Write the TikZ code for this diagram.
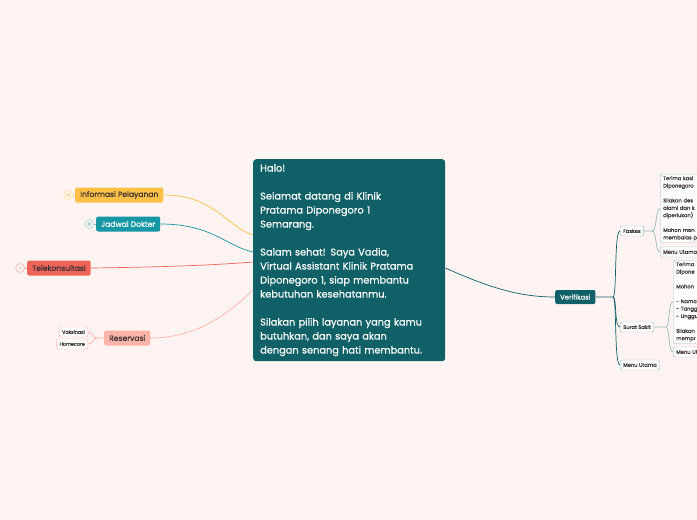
\documentclass[tikz,border=0pt]{standalone}
\usepackage{fontspec}
\setmainfont{Poppins}[FakeBold=0.6]
\usetikzlibrary{positioning}
\definecolor{bgpink}{RGB}{255,244,241}
\definecolor{tealdark}{RGB}{16,96,104}
\definecolor{tealmid}{RGB}{23,150,165}
\definecolor{orangey}{RGB}{255,193,69}
\definecolor{redsoft}{RGB}{240,100,90}
\definecolor{pinksoft}{RGB}{255,180,170}
\definecolor{greyline}{RGB}{150,185,190}
\definecolor{textdark}{RGB}{60,50,50}

\begin{document}
\begin{tikzpicture}[x=1pt, y=-1pt,
    topic/.style={rounded corners=2pt, minimum height=15pt, inner xsep=5pt, inner ysep=0pt,
      font=\fontsize{7.6}{8}\selectfont, text=textdark},
    leaf/.style={draw=pinksoft, fill=white, rounded corners=2pt, minimum height=10pt,
      inner xsep=3pt, inner ysep=0pt, font=\fontsize{4.8}{5}\selectfont, text=textdark},
    sub/.style={draw=greyline, fill=white, rounded corners=2pt, minimum height=10pt,
      inner xsep=3pt, inner ysep=0pt, font=\fontsize{5.2}{6}\selectfont, text=textdark},
    note/.style={sub, align=left, text width=70pt, anchor=north west, inner ysep=2pt,
      font=\fontsize{5.2}{7.4}\selectfont},
    badge/.style={circle, draw, line width=0.6pt, inner sep=0pt, minimum size=9pt,
      font=\fontsize{4}{4}\selectfont},
    link/.style={line width=0.7pt}]
  \fill[bgpink] (0,0) rectangle (697,520);
  \useasboundingbox (0,0) rectangle (697,520);

  % centre
  \node[fill=tealdark, rounded corners=3pt, text=white, align=left, anchor=north west,
    text width=178pt, minimum height=202pt, inner xsep=7pt, inner ysep=4pt,
    font=\fontsize{9.8}{14}\selectfont] (halo) at (253,159)
    {Halo!\\[14pt]
     Selamat datang di Klinik\\
     Pratama Diponegoro 1\\
     Semarang.\\[14pt]
     Salam sehat! Saya Vadia,\\
     Virtual Assistant Klinik Pratama\\
     Diponegoro 1, siap membantu\\
     kebutuhan kesehatanmu.\\[14pt]
     Silakan pilih layanan yang kamu\\
     butuhkan, dan saya akan\\
     dengan senang hati membantu.};

  % left side
  \node[topic, fill=orangey, anchor=west] (info) at (75,195) {Informasi Pelayanan};
  \node[badge, draw=orangey!50, text=orangey!70, left=2pt of info] (infoN) {18};
  \node[topic, fill=tealmid, text=white, anchor=west] (jadwal) at (96,224) {Jadwal Dokter};
  \node[badge, draw=tealmid!40, text=tealmid!60, left=2pt of jadwal] (jadwalN) {31};
  \node[topic, fill=redsoft, anchor=west] (tele) at (27,268) {Telekonsultasi};
  \node[badge, draw=redsoft!50, text=redsoft!70, left=2pt of tele] (teleN) {1};
  \node[topic, fill=pinksoft, anchor=west] (reserv) at (104,338) {Reservasi};
  \node[leaf, anchor=east] (vaks) at (88,332) {Vaksinasi};
  \node[leaf, anchor=east] (home) at (88,344) {Homecare};

  \draw[link, orangey!60] (infoN) -- (info);
  \draw[link, tealmid!50] (jadwalN) -- (jadwal);
  \draw[link, redsoft!60] (teleN) -- (tele);
  \draw[link, orangey] (info.east) .. controls (215,195) and (228,228) .. (253,235);
  \draw[link, tealmid] (jadwal.east) .. controls (212,224) and (226,246) .. (253,252);
  \draw[link, redsoft] (tele.east) .. controls (170,267) and (215,265) .. (253,262);
  \draw[link, pinksoft] (reserv.east) .. controls (200,338) and (232,310) .. (253,290);
  \draw[link, pinksoft] (reserv.west) -- (97,338) .. controls (92,338) and (94,332) .. (vaks.east);
  \draw[link, pinksoft] (97,338) .. controls (92,338) and (94,344) .. (home.east);

  % right side
  \node[topic, fill=tealdark, text=white, minimum height=14pt, font=\fontsize{6.8}{7}\selectfont,
    anchor=west] (verif) at (555,297) {Verifikasi};
  \node[sub, anchor=west] (faskes) at (620,231) {Faskes};
  \node[sub, anchor=west] (surat) at (620,327) {Surat Sakit};
  \node[sub, anchor=west] (menu) at (620,365) {Menu Utama};
  \node[note] (faskesT) at (660,174)
    {Terima kasi\\Diponegoro\\[7.4pt]Silakan des\\alami dan k\\diperlukan)\\[7.4pt]Mohon men\\membalas p};
  \node[sub, anchor=west, text width=60pt, align=left] (faskesM) at (660,252) {Menu Utama};
  \node[note] (suratT) at (673,260)
    {Terima\\Dipone\\[7.4pt]Mohon\\[7.4pt]- Nama\\- Tangg\\- Unggu\\[7.4pt]Silakan\\mempr};
  \node[sub, anchor=west, text width=60pt, align=left] (suratM) at (673,352) {Menu Utama};

  \draw[link, tealdark] (halo.east |- 0,268) .. controls (490,288) and (520,297) .. (verif.west);
  \draw[link, tealdark] (verif.east) -- (613,297) .. controls (617,297) and (614,231) .. (faskes.west);
  \draw[link, tealdark] (613,297) .. controls (617,297) and (614,327) .. (surat.west);
  \draw[link, tealdark] (613,297) .. controls (617,297) and (614,365) .. (menu.west);
  \draw[link, greyline] (faskes.east) -- (652,231) .. controls (657,231) and (655,211) .. (faskesT.west);
  \draw[link, greyline] (652,231) .. controls (657,231) and (655,252) .. (faskesM.west);
  \draw[link, greyline] (surat.east) -- (666,327) .. controls (670,327) and (668,302) .. (suratT.west);
  \draw[link, greyline] (666,327) .. controls (670,327) and (668,352) .. (suratM.west);
\end{tikzpicture}
\end{document}
